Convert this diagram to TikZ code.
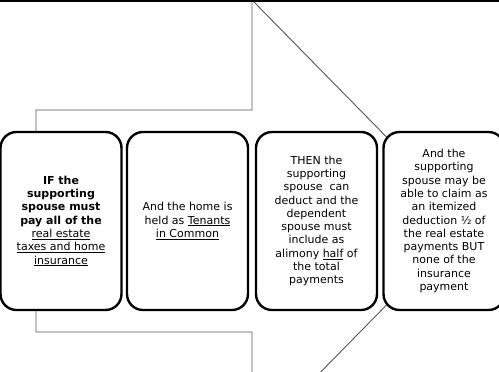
\documentclass[tikz,border=0pt]{standalone}
\usepackage{fontspec}
\setmainfont{DejaVu Sans}
\definecolor{arrowgray}{RGB}{85,85,85}
\begin{document}
\begin{tikzpicture}[x=1pt,y=-1pt,
  box/.style={draw=black, line width=2.4pt, rounded corners=16pt, fill=white,
    minimum width=121pt, minimum height=178pt, inner sep=0pt, align=center,
    font=\fontsize{11}{13.3}\selectfont, text=black},
  arrowline/.style={draw=arrowgray, line width=0.9pt}]
\useasboundingbox (0,0) rectangle (499,372);
\clip (0,0) rectangle (499,372);
\draw[arrowline] (36,110) -- (252,110) -- (252,0) -- (469,221) -- (252,442) -- (252,332) -- (36,332) -- cycle;
\node[box] (b1) at (61,221) {\textbf{IF the}\\ \textbf{supporting}\\ \textbf{spouse must}\\ \textbf{pay all of the}\\ \underline{real estate}\\ \underline{taxes and home}\\ \underline{insurance}};
\node[box] (b2) at (187.5,221) {And the home is\\ held as \underline{Tenants}\\ \underline{in Common}};
\node[box] (b3) at (316.5,221) {THEN the\\ supporting\\ spouse\ \ can\\ deduct and the\\ dependent\\ spouse must\\ include as\\ alimony \underline{half} of\\ the total\\ payments};
\node[box] (b4) at (444,221) {And the\\ supporting\\ spouse may be\\ able to claim as\\ an itemized\\ deduction ½ of\\ the real estate\\ payments BUT\\ none of the\\ insurance\\ payment};
\fill[black] (0,0) rectangle (499,2.3);
\end{tikzpicture}
\end{document}
